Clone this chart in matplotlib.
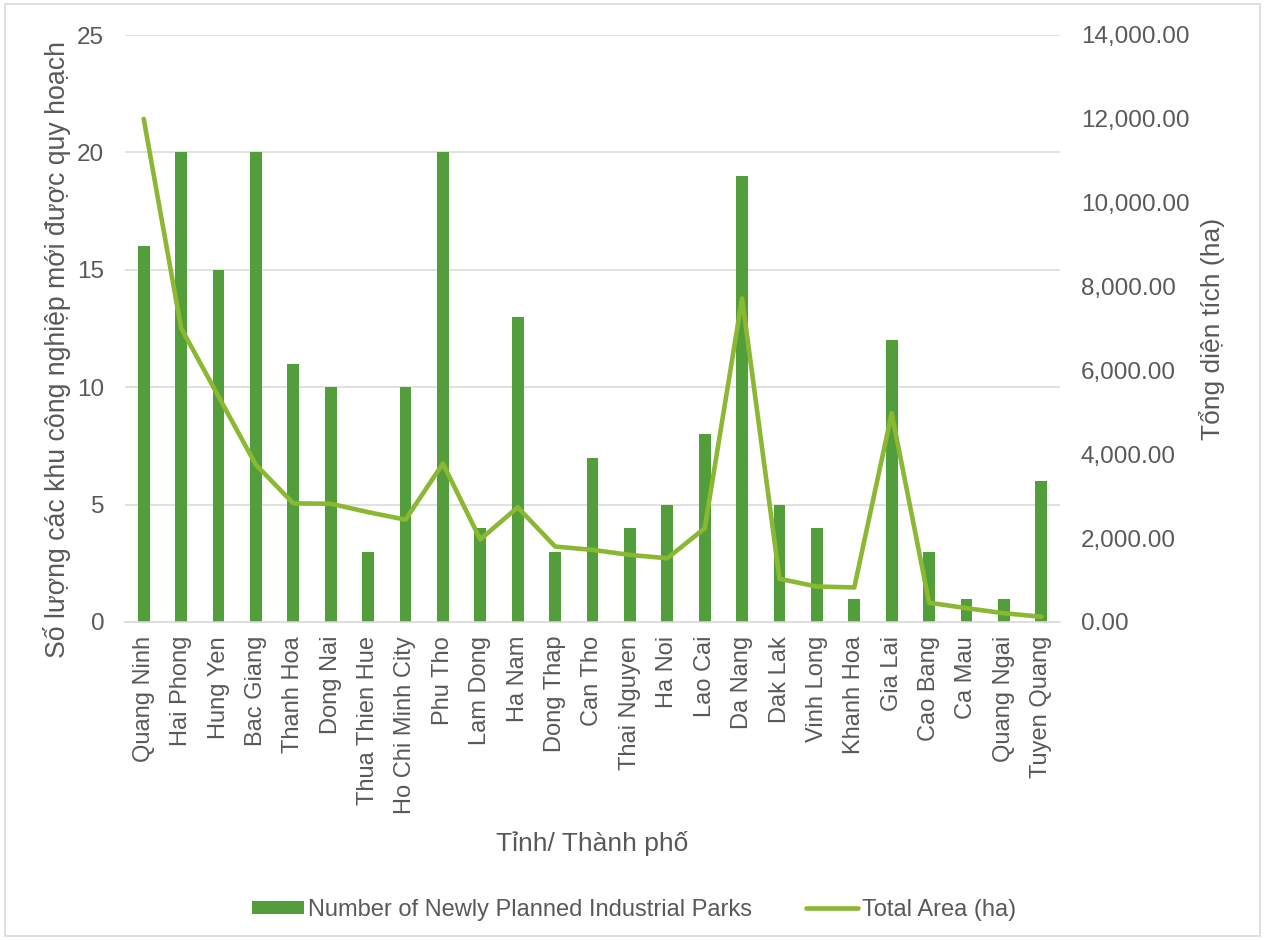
import matplotlib.pyplot as plt
import matplotlib.ticker as mticker
from matplotlib.patches import Rectangle
import numpy as np

plt.rcParams['font.family'] = ['Liberation Sans', 'DejaVu Sans']

# Dữ liệu
provinces = ['Quang Ninh', 'Hai Phong', 'Hung Yen', 'Bac Giang', 'Thanh Hoa', 'Dong Nai',
             'Thua Thien Hue', 'Ho Chi Minh City', 'Phu Tho', 'Lam Dong', 'Ha Nam',
             'Dong Thap', 'Can Tho', 'Thai Nguyen', 'Ha Noi', 'Lao Cai', 'Da Nang',
             'Dak Lak', 'Vinh Long', 'Khanh Hoa', 'Gia Lai', 'Cao Bang', 'Ca Mau',
             'Quang Ngai', 'Tuyen Quang']
num_parks = [16, 20, 15, 20, 11, 10, 3, 10, 20, 4, 13, 3, 7, 4, 5, 8, 19, 5, 4, 1, 12, 3, 1, 1, 6]
total_area = [12000, 7010, 5380, 3750, 2830, 2820, 2620, 2440, 3780, 1970, 2735, 1800,
              1720, 1600, 1520, 2235, 7720, 1030, 845, 825, 4980, 460, 330, 210, 125]

bar_color = '#529E3A'
line_color = '#8AB833'
text_color = '#595959'

fig = plt.figure(figsize=(12.65, 9.4), dpi=100)
fig.patches.append(Rectangle((0.004, 0.004), 0.992, 0.992, transform=fig.transFigure,
                             fill=False, edgecolor='#D9D9D9', linewidth=1.2))

ax1 = fig.add_axes([125 / 1265, 1 - 622 / 940, (1060 - 125) / 1265, (622 - 35) / 940])
ax2 = ax1.twinx()

x = np.arange(len(provinces))
ax1.bar(x, num_parks, width=0.32, color=bar_color, label='Number of Newly Planned Industrial Parks',
        zorder=2)
ax2.plot(x, total_area, color=line_color, linewidth=3.3, solid_capstyle='round',
         solid_joinstyle='round', label='Total Area (ha)', zorder=3)

ax1.set_xlim(-0.5, len(provinces) - 0.5)
ax1.set_ylim(0, 25)
ax2.set_ylim(0, 14000)
ax1.set_yticks([0, 5, 10, 15, 20, 25])
ax2.set_yticks(np.arange(0, 14001, 2000))
ax2.yaxis.set_major_formatter(mticker.FuncFormatter(lambda v, p: f'{v:,.2f}'))

ax1.grid(axis='y', color='#D9D9D9', linewidth=1.1, zorder=0)
ax1.set_axisbelow(True)
for ax in (ax1, ax2):
    for s in ax.spines.values():
        s.set_visible(False)
ax1.spines['bottom'].set_visible(True)
ax1.spines['bottom'].set_color('#D9D9D9')
ax1.spines['bottom'].set_linewidth(1.1)

ax1.set_xticks(x)
ax1.set_xticklabels(provinces, rotation=90, fontsize=17, color=text_color)
ax1.tick_params(axis='x', length=0, pad=10)
ax1.tick_params(axis='y', length=0, labelsize=17.5, labelcolor=text_color, pad=15)
ax2.tick_params(axis='y', length=0, labelsize=17.5, labelcolor=text_color, pad=15)

ax1.set_ylabel('Số lượng các khu công nghiệp mới được quy hoạch', fontsize=19.2,
               color=text_color, va='center')
ax1.yaxis.set_label_coords((57 - 125) / 935, (622 - 349) / 587)
ax2.set_ylabel('Tổng diện tích (ha)', fontsize=19, color=text_color, va='center')
ax2.yaxis.set_label_coords((1212 - 125) / 935, 0.5)
ax1.set_xlabel('Tỉnh/ Thành phố', fontsize=19, color=text_color, va='center')
ax1.xaxis.set_label_coords(0.5, (622 - 843) / 587)

h1, l1 = ax1.get_legend_handles_labels()
h2, l2 = ax2.get_legend_handles_labels()
fig.legend(h1 + h2, l1 + l2, loc='center', bbox_to_anchor=(634 / 1265, 1 - 910 / 940),
           ncol=2, frameon=False, fontsize=17, labelcolor=text_color,
           handlelength=2.2, handleheight=0.5, handletextpad=0.15, columnspacing=2.3)

fig.savefig('out.png', dpi=100)
